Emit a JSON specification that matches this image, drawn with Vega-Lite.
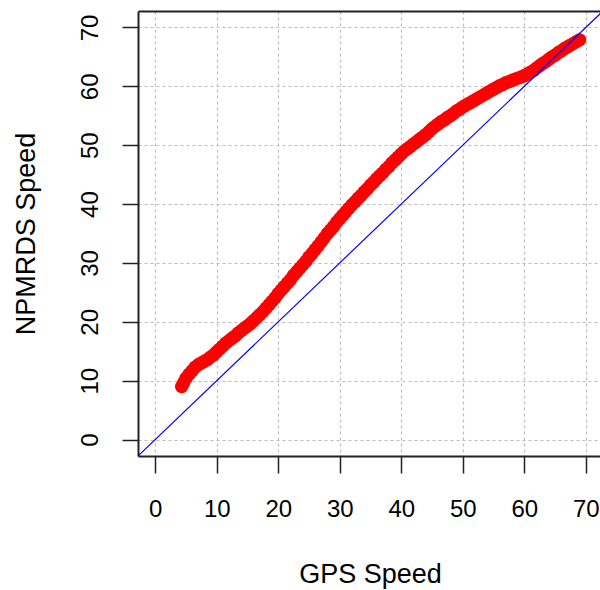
{
  "$schema": "https://vega.github.io/schema/vega-lite/v6.json",
  "width": 462,
  "height": 445,
  "autosize": {"type": "none"},
  "padding": {"left": 138, "top": 11, "right": 0, "bottom": 134},
  "background": "white",
  "config": {"view": {"stroke": null}, "font": "Liberation Sans"},
  "layer": [
    {
      "data": {"values": [
        {"gps":4.3,"npmrds":9.0},{"gps":4.6,"npmrds":9.6},{"gps":5.0,"npmrds":10.4},{"gps":5.5,"npmrds":11.1},{"gps":6.0,"npmrds":11.7},{"gps":6.5,"npmrds":12.3},{"gps":7.0,"npmrds":12.7},{"gps":7.5,"npmrds":13.0},{"gps":8.0,"npmrds":13.3},{"gps":8.5,"npmrds":13.6},{"gps":9.0,"npmrds":14.0},{"gps":9.5,"npmrds":14.4},
        {"gps":10.0,"npmrds":14.9},{"gps":10.5,"npmrds":15.4},{"gps":11.0,"npmrds":15.9},{"gps":11.5,"npmrds":16.4},{"gps":12.0,"npmrds":16.8},{"gps":12.5,"npmrds":17.2},{"gps":13.0,"npmrds":17.6},{"gps":13.5,"npmrds":18.1},{"gps":14.0,"npmrds":18.5},{"gps":14.5,"npmrds":18.9},
        {"gps":15.0,"npmrds":19.3},{"gps":15.5,"npmrds":19.7},{"gps":16.0,"npmrds":20.2},{"gps":16.5,"npmrds":20.7},{"gps":17.0,"npmrds":21.2},{"gps":17.5,"npmrds":21.7},{"gps":18.0,"npmrds":22.3},{"gps":18.5,"npmrds":22.9},{"gps":19.0,"npmrds":23.5},{"gps":19.5,"npmrds":24.1},
        {"gps":20.0,"npmrds":24.8},{"gps":20.5,"npmrds":25.4},{"gps":21.0,"npmrds":26.0},{"gps":21.5,"npmrds":26.6},{"gps":22.0,"npmrds":27.2},{"gps":22.5,"npmrds":27.9},{"gps":23.0,"npmrds":28.5},{"gps":23.5,"npmrds":29.1},{"gps":24.0,"npmrds":29.7},{"gps":24.5,"npmrds":30.3},
        {"gps":25.0,"npmrds":31.0},{"gps":25.5,"npmrds":31.6},{"gps":26.0,"npmrds":32.3},{"gps":26.5,"npmrds":32.9},{"gps":27.0,"npmrds":33.6},{"gps":27.5,"npmrds":34.3},{"gps":28.0,"npmrds":35.0},{"gps":28.5,"npmrds":35.6},{"gps":29.0,"npmrds":36.2},{"gps":29.5,"npmrds":36.9},
        {"gps":30.0,"npmrds":37.5},{"gps":30.5,"npmrds":38.1},{"gps":31.0,"npmrds":38.7},{"gps":31.5,"npmrds":39.3},{"gps":32.0,"npmrds":39.9},{"gps":32.5,"npmrds":40.4},{"gps":33.0,"npmrds":41.0},{"gps":33.5,"npmrds":41.5},{"gps":34.0,"npmrds":42.1},{"gps":34.5,"npmrds":42.6},
        {"gps":35.0,"npmrds":43.2},{"gps":35.5,"npmrds":43.7},{"gps":36.0,"npmrds":44.3},{"gps":36.5,"npmrds":44.8},{"gps":37.0,"npmrds":45.3},{"gps":37.5,"npmrds":45.9},{"gps":38.0,"npmrds":46.4},{"gps":38.5,"npmrds":47.0},{"gps":39.0,"npmrds":47.5},{"gps":39.5,"npmrds":48.0},
        {"gps":40.0,"npmrds":48.5},{"gps":40.5,"npmrds":49.0},{"gps":41.0,"npmrds":49.4},{"gps":41.5,"npmrds":49.8},{"gps":42.0,"npmrds":50.2},{"gps":42.5,"npmrds":50.6},{"gps":43.0,"npmrds":51.0},{"gps":43.5,"npmrds":51.4},{"gps":44.0,"npmrds":51.8},{"gps":44.5,"npmrds":52.3},
        {"gps":45.0,"npmrds":52.8},{"gps":45.5,"npmrds":53.2},{"gps":46.0,"npmrds":53.6},{"gps":46.5,"npmrds":54.0},{"gps":47.0,"npmrds":54.3},{"gps":47.5,"npmrds":54.7},{"gps":48.0,"npmrds":55.0},{"gps":48.5,"npmrds":55.4},{"gps":49.0,"npmrds":55.8},{"gps":49.5,"npmrds":56.1},
        {"gps":50.0,"npmrds":56.5},{"gps":50.5,"npmrds":56.8},{"gps":51.0,"npmrds":57.1},{"gps":51.5,"npmrds":57.4},{"gps":52.0,"npmrds":57.7},{"gps":52.5,"npmrds":58.0},{"gps":53.0,"npmrds":58.3},{"gps":53.5,"npmrds":58.6},{"gps":54.0,"npmrds":58.9},{"gps":54.5,"npmrds":59.2},
        {"gps":55.0,"npmrds":59.5},{"gps":55.5,"npmrds":59.8},{"gps":56.0,"npmrds":60.1},{"gps":56.5,"npmrds":60.3},{"gps":57.0,"npmrds":60.6},{"gps":57.5,"npmrds":60.8},{"gps":58.0,"npmrds":61.0},{"gps":58.5,"npmrds":61.2},{"gps":59.0,"npmrds":61.4},{"gps":59.5,"npmrds":61.6},
        {"gps":60.0,"npmrds":61.8},{"gps":60.5,"npmrds":62.1},{"gps":61.0,"npmrds":62.4},{"gps":61.5,"npmrds":62.7},{"gps":62.0,"npmrds":63.1},{"gps":62.5,"npmrds":63.5},{"gps":63.0,"npmrds":63.9},{"gps":63.5,"npmrds":64.2},{"gps":64.0,"npmrds":64.6},{"gps":64.5,"npmrds":65.0},
        {"gps":65.0,"npmrds":65.3},{"gps":65.5,"npmrds":65.7},{"gps":66.0,"npmrds":66.0},{"gps":66.5,"npmrds":66.4},{"gps":67.0,"npmrds":66.7},{"gps":67.5,"npmrds":67.0},{"gps":68.0,"npmrds":67.3},{"gps":68.5,"npmrds":67.6},{"gps":69.0,"npmrds":67.9}
      ]},
      "mark": {"type": "circle", "color": "#ff0000", "opacity": 1, "size": 180},
      "encoding": {
        "x": {"field": "gps", "type": "quantitative",
          "scale": {"domain": [-2.8, 72.32], "nice": false, "zero": false},
          "axis": {"orient": "bottom", "values": [0,10,20,30,40,50,60,70], "format": "d", "title": "GPS Speed",
            "grid": true, "gridColor": "#bdbdbd", "gridDash": [3,3], "gridWidth": 1.2,
            "tickSize": 17, "tickColor": "#222222", "tickWidth": 1.5,
            "domainColor": "#222222", "domainWidth": 2,
            "labelFontSize": 24, "labelColor": "#000000", "labelPadding": 43, "labelBaseline": "alphabetic", "labelFlush": false, "labelOverlap": false,
            "titleFontSize": 27, "titleFontWeight": "normal", "titleColor": "#000000", "titleBaseline": "alphabetic", "titleX": 232, "titleY": 126}},
        "y": {"field": "npmrds", "type": "quantitative",
          "scale": {"domain": [-2.8, 72.8], "nice": false, "zero": false},
          "axis": {"orient": "left", "values": [0,10,20,30,40,50,60,70], "format": "d", "title": "NPMRDS Speed",
            "grid": true, "gridColor": "#bdbdbd", "gridDash": [3,3], "gridWidth": 1.2,
            "tickSize": 16, "tickColor": "#222222", "tickWidth": 1.5,
            "domainColor": "#222222", "domainWidth": 2,
            "labelFontSize": 24, "labelColor": "#000000", "labelAngle": -90, "labelAlign": "center", "labelBaseline": "alphabetic", "labelPadding": 25, "labelFlush": false, "labelOverlap": false,
            "titleFontSize": 27, "titleFontWeight": "normal", "titleColor": "#000000", "titleAngle": -90, "titleAlign": "center", "titleBaseline": "alphabetic", "titleX": -104, "titleY": 222.5}}
      }
    },
    {
      "data": {"values": [{"gps": -2.8, "npmrds": -2.8}, {"gps": 72.8, "npmrds": 72.8}]},
      "mark": {"type": "line", "color": "#0000ff", "strokeWidth": 1.2, "clip": true},
      "encoding": {
        "x": {"field": "gps", "type": "quantitative",
          "scale": {"domain": [-2.8, 72.32], "nice": false, "zero": false},
          "axis": {"orient": "top", "labels": false, "ticks": false, "grid": false, "title": null, "domain": true, "domainColor": "#222222", "domainWidth": 2}},
        "y": {"field": "npmrds", "type": "quantitative",
          "scale": {"domain": [-2.8, 72.8], "nice": false, "zero": false},
          "axis": {"orient": "left", "values": [0,10,20,30,40,50,60,70], "format": "d", "title": "NPMRDS Speed",
            "grid": true, "gridColor": "#bdbdbd", "gridDash": [3,3], "gridWidth": 1.2,
            "tickSize": 16, "tickColor": "#222222", "tickWidth": 1.5,
            "domainColor": "#222222", "domainWidth": 2,
            "labelFontSize": 24, "labelColor": "#000000", "labelAngle": -90, "labelAlign": "center", "labelBaseline": "alphabetic", "labelPadding": 25, "labelFlush": false, "labelOverlap": false,
            "titleFontSize": 27, "titleFontWeight": "normal", "titleColor": "#000000", "titleAngle": -90, "titleAlign": "center", "titleBaseline": "alphabetic", "titleX": -104, "titleY": 222.5}}
      }
    }
  ],
  "resolve": {"axis": {"x": "independent"}}
}
